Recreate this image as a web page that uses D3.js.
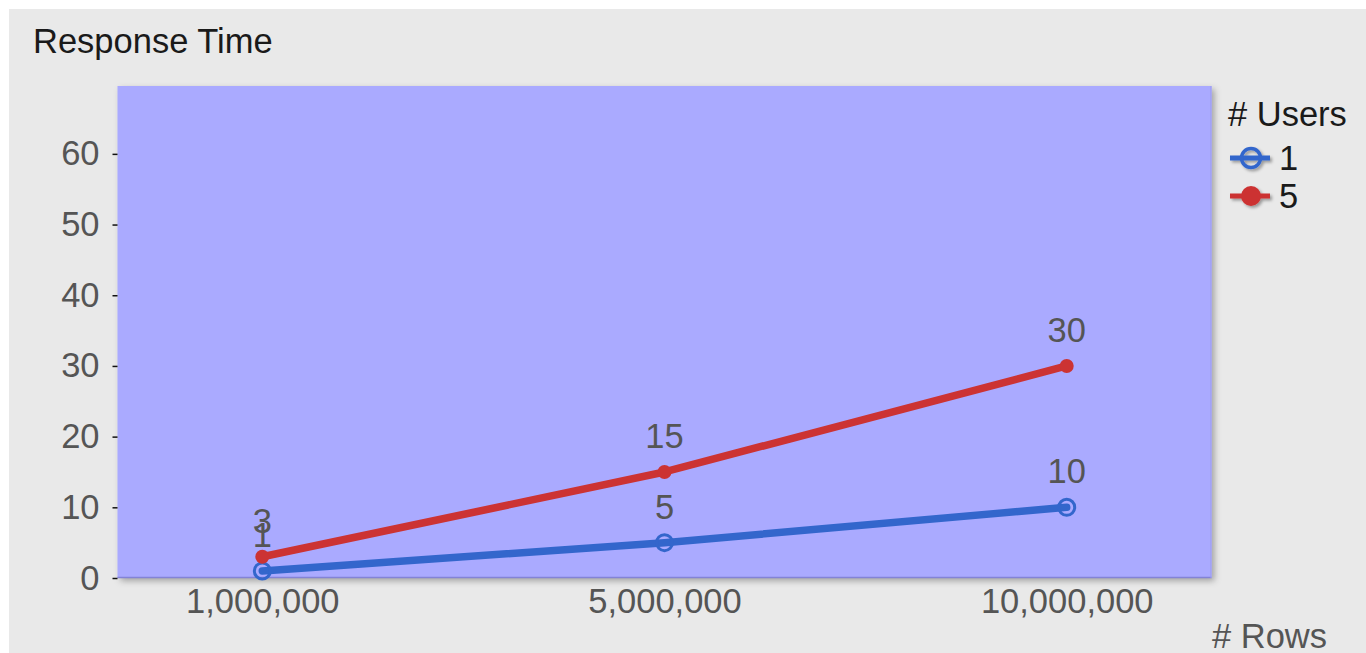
<!DOCTYPE html>
<html>
<head>
<meta charset="utf-8">
<script src="https://cdn.jsdelivr.net/npm/d3@7"></script>
<style>
  html, body { margin: 0; padding: 0; background: #ffffff; }
  svg { display: block; }
  text { font-family: "Liberation Sans", Arial, sans-serif; }
</style>
</head>
<body>
<svg id="chart" width="1366" height="653"></svg>
<script>
const categories = ["1,000,000", "5,000,000", "10,000,000"];
const seriesNames = ["1", "5"];
const users1 = [1, 5, 10];
const users5 = [3, 15, 30];
const yTicks = [0, 10, 20, 30, 40, 50, 60];
const chartTitle = "Response Time";
const xTitle = "# Rows";
const legendTitle = "# Users";

const series = [
  { name: seriesNames[0], values: users1, color: "#3366cc", hollow: true },
  { name: seriesNames[1], values: users5, color: "#cc3333", hollow: false }
];

const W = 1366, H = 653;
const plot = { left: 117.5, top: 86, right: 1211.5, bottom: 578 };
const fontSize = 34.5;

const svg = d3.select("#chart");
const defs = svg.append("defs");
const f = defs.append("filter").attr("id", "shadow")
  .attr("x", "-5%").attr("y", "-5%").attr("width", "115%").attr("height", "115%");
f.append("feDropShadow").attr("dx", 3).attr("dy", 3).attr("stdDeviation", 3)
  .attr("flood-color", "#000").attr("flood-opacity", 0.3);
const f2 = defs.append("filter").attr("id", "shadowSmall")
  .attr("x", "-30%").attr("y", "-30%").attr("width", "180%").attr("height", "180%");
f2.append("feDropShadow").attr("dx", 2).attr("dy", 2).attr("stdDeviation", 1.5)
  .attr("flood-color", "#000").attr("flood-opacity", 0.35);

// background panel
svg.append("rect").attr("x", 9).attr("y", 9).attr("width", W - 9).attr("height", H - 9)
  .attr("fill", "#e9e9e9");

// scales
const x = d3.scalePoint().domain(categories).range([plot.left, plot.right]).padding(0.36);
const y = d3.scaleLinear().domain([0, 69.6]).range([plot.bottom, plot.top]);

// plot area
svg.append("rect")
  .attr("x", plot.left).attr("y", plot.top)
  .attr("width", plot.right - plot.left).attr("height", plot.bottom - plot.top)
  .attr("fill", "#aaaaff").attr("filter", "url(#shadow)");
svg.append("line")
  .attr("x1", plot.left).attr("x2", plot.right)
  .attr("y1", plot.bottom - 0.5).attr("y2", plot.bottom - 0.5)
  .attr("stroke", "#8383d6").attr("stroke-width", 1.5);
svg.append("line")
  .attr("x1", plot.right - 0.5).attr("x2", plot.right - 0.5)
  .attr("y1", plot.top).attr("y2", plot.bottom)
  .attr("stroke", "#9a9aee").attr("stroke-width", 1);

// title
svg.append("text").attr("x", 33).attr("y", 53)
  .attr("font-size", fontSize).attr("fill", "#1a1a1a").text(chartTitle);

// y axis
const yAxis = svg.append("g").attr("transform", `translate(${plot.left},0)`)
  .call(d3.axisLeft(y).tickValues(yTicks).tickSize(5).tickPadding(13));
yAxis.select(".domain").remove();
yAxis.selectAll(".tick line").attr("stroke", "#111").attr("stroke-width", 1.5);
yAxis.selectAll(".tick text").attr("font-size", fontSize).attr("fill", "#555")
  .attr("font-family", "Liberation Sans, Arial, sans-serif");

// x axis
const xAxis = svg.append("g").attr("transform", `translate(0,${plot.bottom})`)
  .call(d3.axisBottom(x).tickSize(0).tickPadding(11));
xAxis.select(".domain").remove();
xAxis.selectAll(".tick text").attr("font-size", fontSize).attr("fill", "#555")
  .attr("font-family", "Liberation Sans, Arial, sans-serif");

svg.append("text").attr("x", 1327).attr("y", 648).attr("text-anchor", "end")
  .attr("font-size", fontSize).attr("fill", "#555").text(xTitle);

// lines
const line = d3.line().x((d, i) => x(categories[i])).y(d => y(d));
series.forEach(s => {
  svg.append("path").datum(s.values).attr("d", line)
    .attr("fill", "none").attr("stroke", s.color).attr("stroke-width", 7.5)
    .attr("stroke-linecap", "round").attr("stroke-linejoin", "round");
});
series.forEach(s => {
  const g = svg.append("g");
  s.values.forEach((v, i) => {
    if (s.hollow) {
      g.append("circle").attr("cx", x(categories[i])).attr("cy", y(v)).attr("r", 8)
        .attr("fill", "none").attr("stroke", s.color).attr("stroke-width", 3);
    } else {
      g.append("circle").attr("cx", x(categories[i])).attr("cy", y(v)).attr("r", 7)
        .attr("fill", s.color);
    }
  });
});
// data labels
series.forEach(s => {
  s.values.forEach((v, i) => {
    svg.append("text").attr("x", x(categories[i])).attr("y", y(v) - 24)
      .attr("text-anchor", "middle").attr("font-size", fontSize).attr("fill", "#555")
      .text(v);
  });
});

// legend
svg.append("text").attr("x", 1228).attr("y", 126)
  .attr("font-size", fontSize).attr("fill", "#1a1a1a").text(legendTitle);
const legendY = [158, 196];
series.forEach((s, i) => {
  const g = svg.append("g").attr("transform", `translate(0,${legendY[i]})`);
  const sym = g.append("g").attr("filter", "url(#shadowSmall)");
  sym.append("line").attr("x1", 1230).attr("x2", 1270).attr("y1", 0).attr("y2", 0)
    .attr("stroke", s.color).attr("stroke-width", 5);
  if (s.hollow) {
    sym.append("circle").attr("cx", 1251).attr("cy", 0).attr("r", 9.5)
      .attr("fill", "none").attr("stroke", s.color).attr("stroke-width", 3.5);
  } else {
    sym.append("circle").attr("cx", 1251).attr("cy", 0).attr("r", 10)
      .attr("fill", s.color);
  }
  g.append("text").attr("x", 1279).attr("y", 12)
    .attr("font-size", fontSize).attr("fill", "#1a1a1a").text(s.name);
});
</script>
</body>
</html>
